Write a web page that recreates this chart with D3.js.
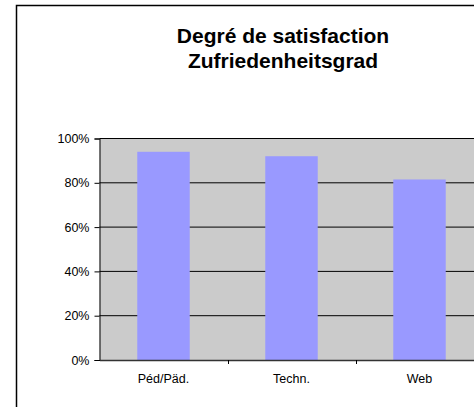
<!DOCTYPE html>
<html><head><meta charset="utf-8">
<script src="https://cdn.jsdelivr.net/npm/d3@7"></script>
<style>html,body{margin:0;padding:0;background:#fff;overflow:hidden}</style>
</head><body>
<script>
const categories = ["Péd/Päd.", "Techn.", "Web"];
const values = [0.94, 0.92, 0.815];
const yTicks = [0, 0.2, 0.4, 0.6, 0.8, 1.0];
const titleLines = ["Degré de satisfaction", "Zufriedenheitsgrad"];

const W = 474, H = 407;
const svg = d3.select("body").append("svg").attr("width", W).attr("height", H)
  .style("font-family", "'Liberation Sans', Arial, sans-serif");

// outer chart border (extends past window)
svg.append("rect").attr("x", 16.5).attr("y", 5.5).attr("width", 600).attr("height", 600)
  .attr("fill", "#fff").attr("stroke", "#000").attr("stroke-width", 1.5);

const plot = {left: 99.5, right: 483.5, top: 138.5, bottom: 360};
const x = d3.scaleBand().domain(categories).range([plot.left, plot.right]).paddingInner(0).paddingOuter(0);
const y = d3.scaleLinear().domain([0, 1]).range([plot.bottom, plot.top]);

// plot background
svg.append("rect").attr("x", plot.left).attr("y", plot.top)
  .attr("width", plot.right - plot.left).attr("height", plot.bottom - plot.top)
  .attr("fill", "#cbcbcb");

// gridlines
svg.append("g").selectAll("line").data(yTicks.filter(d => d > 0)).join("line")
  .attr("x1", plot.left).attr("x2", plot.right)
  .attr("y1", d => y(d)).attr("y2", d => y(d))
  .attr("stroke", "#000").attr("stroke-width", 1);

// bars
const bw = x.bandwidth() * 0.41;
svg.append("g").selectAll("rect").data(values).join("rect")
  .attr("x", (d, i) => x(categories[i]) + x.bandwidth() / 2 - bw / 2)
  .attr("width", bw)
  .attr("y", d => y(d))
  .attr("height", d => y(0) - y(d))
  .attr("fill", "#9999ff");

// y axis
const yAxis = d3.axisLeft(y).tickValues(yTicks).tickFormat(d3.format(".0%")).tickSize(5).tickPadding(5);
const gy = svg.append("g").attr("transform", `translate(${plot.left},0)`).call(yAxis);
gy.select(".domain").attr("stroke", "#000");
gy.selectAll("text").attr("font-size", 12.5).attr("fill", "#000")
  .attr("font-family", "'Liberation Sans', Arial, sans-serif");

// x axis
const xAxis = d3.axisBottom(x).tickSize(0).tickPadding(14);
const gx = svg.append("g").attr("transform", `translate(0,${plot.bottom})`).call(xAxis);
gx.select(".domain").attr("stroke", "#333").attr("stroke-width", 1.5);
gx.selectAll("text").attr("font-size", 12.5).attr("fill", "#000")
  .attr("font-family", "'Liberation Sans', Arial, sans-serif");
// category separator ticks
svg.append("g").selectAll("line").data(categories.slice(1)).join("line")
  .attr("x1", d => Math.round(x(d)) + 0.5).attr("x2", d => Math.round(x(d)) + 0.5)
  .attr("y1", plot.bottom).attr("y2", plot.bottom + 4)
  .attr("stroke", "#000");

// title
svg.append("g").selectAll("text").data(titleLines).join("text")
  .attr("x", 283).attr("y", (d, i) => 42.5 + i * 25.5)
  .attr("text-anchor", "middle").attr("font-weight", "bold").attr("font-size", 21)
  .attr("fill", "#000").text(d => d);
</script>
</body></html>
